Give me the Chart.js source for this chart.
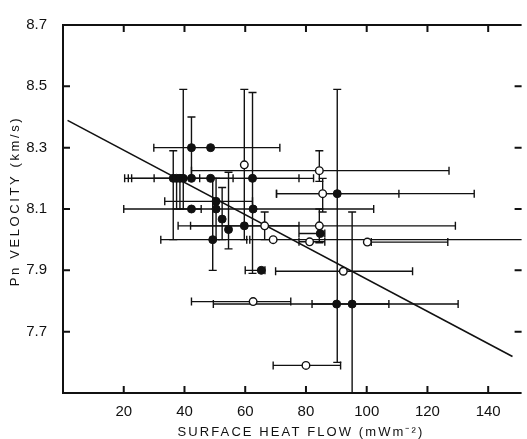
<!DOCTYPE html>
<html>
<head>
<meta charset="utf-8">
<script src="https://cdn.jsdelivr.net/npm/chart.js@4/dist/chart.umd.min.js"></script>
<style>
  html, body { margin: 0; padding: 0; background: #fff; }
  canvas { display: block; }
</style>
</head>
<body>
<canvas id="pnChart" width="527" height="439"></canvas>
<script>
// tick labels
const xTicks = [20, 40, 60, 80, 100, 120, 140];
const yTicks = [7.7, 7.9, 8.1, 8.3, 8.5, 8.7];

// filled circles: value + error bar ends (null = no bar on that side)
const filledX   = [42.3, 48.6, 36.3, 37.4, 38.5, 39.6, 42.3, 48.6, 62.4, 90.3, 50.4, 50.4, 42.3, 52.4, 54.5, 49.3, 59.7, 62.6, 65.3, 90.1, 95.2, 84.7];
const filledY   = [8.30, 8.30, 8.20, 8.20, 8.20, 8.20, 8.20, 8.20, 8.20, 8.15, 8.125, 8.10, 8.10, 8.067, 8.033, 8.00, 8.045, 8.10, 7.90, 7.79, 7.79, 8.02];
const filledXLo = [29.9, null, 20.3, 21.5, 22.6, 30.0, null, null, null, 70.3, 33.5, 20.0, null, null, null, 32.2, 42.0, 42.3, 60.0, 49.5, 82.0, 77.7];
const filledXHi = [71.4, null, 56.0, 45.0, 82.5, 77.7, null, null, null, 135.4, 62.4, 45.5, null, null, null, 60.5, 77.7, 102.3, 66.5, 107.3, 130.1, 86.2];
const filledYLo = [8.20, null, 8.00, 8.10, 8.10, 8.10, null, null, 7.89, 7.60, 8.00, null, null, 8.00, 7.97, 7.90, 8.00, null, null, null, 7.50, null];
const filledYHi = [8.40, null, 8.29, null, null, 8.49, null, null, 8.48, 8.49, 8.20, null, null, 8.17, 8.22, 8.20, 8.49, null, null, null, 8.09, null];

// open circles
const openX   = [59.7, 84.4, 85.5, 66.4, 84.4, 69.2, 81.2, 100.2, 92.3, 62.6, 80.0];
const openY   = [8.244, 8.225, 8.15, 8.045, 8.045, 8.00, 7.993, 7.992, 7.897, 7.798, 7.59];
const openXLo = [null, 42.3, 70.3, 37.9, null, 61.5, 77.7, 101.5, 70.0, 42.3, 69.2];
const openXHi = [null, 127.1, 110.6, 129.2, null, 170, 86.2, 126.7, 115.1, 75.0, 91.4];
const openYLo = [null, 8.19, 8.09, 8.00, 7.99, null, null, null, null, null, null];
const openYHi = [null, 8.29, 8.20, 8.09, 8.10, null, null, null, null, null, null];

// fitted line end points
const fitX = [1.5, 148];
const fitY = [8.389, 7.619];

const ink = '#111';
const toPts = (xs, ys) => xs.map((x, i) => ({ x: x, y: ys[i] }));

const groups = [
  { x: filledX, y: filledY, xLo: filledXLo, xHi: filledXHi, yLo: filledYLo, yHi: filledYHi },
  { x: openX, y: openY, xLo: openXLo, xHi: openXHi, yLo: openYLo, yHi: openYHi }
];

const frame = {
  id: 'frame',
  beforeDatasetsDraw(chart) {
    const { ctx, chartArea: a, scales: { x, y } } = chart;
    const cap = 4;
    ctx.save();
    ctx.beginPath();
    ctx.rect(a.left, a.top, a.right - a.left, a.bottom - a.top);
    ctx.clip();
    ctx.strokeStyle = ink;
    ctx.lineWidth = 1.4;
    groups.forEach(g => {
      g.x.forEach((xv, i) => {
        const px = x.getPixelForValue(xv);
        const py = y.getPixelForValue(g.y[i]);
        ctx.beginPath();
        if (g.xLo[i] !== null || g.xHi[i] !== null) {
          const l = g.xLo[i] !== null ? x.getPixelForValue(g.xLo[i]) : px;
          const r = g.xHi[i] !== null ? x.getPixelForValue(g.xHi[i]) : px;
          ctx.moveTo(l, py); ctx.lineTo(r, py);
          if (g.xLo[i] !== null) { ctx.moveTo(l, py - cap); ctx.lineTo(l, py + cap); }
          if (g.xHi[i] !== null) { ctx.moveTo(r, py - cap); ctx.lineTo(r, py + cap); }
        }
        if (g.yLo[i] !== null || g.yHi[i] !== null) {
          const b = g.yLo[i] !== null ? y.getPixelForValue(g.yLo[i]) : py;
          const t = g.yHi[i] !== null ? y.getPixelForValue(g.yHi[i]) : py;
          ctx.moveTo(px, b); ctx.lineTo(px, t);
          if (g.yLo[i] !== null) { ctx.moveTo(px - cap, b); ctx.lineTo(px + cap, b); }
          if (g.yHi[i] !== null) { ctx.moveTo(px - cap, t); ctx.lineTo(px + cap, t); }
        }
        ctx.stroke();
      });
    });
    ctx.restore();
  },
  afterDraw(chart) {
    const { ctx, chartArea: a, scales: { x, y } } = chart;
    const len = 7;
    ctx.save();
    ctx.strokeStyle = ink;
    ctx.lineWidth = 2;
    ctx.beginPath();
    ctx.moveTo(a.right, a.top);
    ctx.lineTo(a.left, a.top);
    ctx.lineTo(a.left, a.bottom);
    ctx.lineTo(a.right, a.bottom);
    xTicks.forEach(v => {
      const px = x.getPixelForValue(v);
      ctx.moveTo(px, a.bottom); ctx.lineTo(px, a.bottom - len);
      ctx.moveTo(px, a.top); ctx.lineTo(px, a.top + len);
    });
    yTicks.forEach(v => {
      const py = y.getPixelForValue(v);
      ctx.moveTo(a.left, py); ctx.lineTo(a.left + len, py);
      ctx.moveTo(a.right, py); ctx.lineTo(a.right - len, py);
    });
    ctx.stroke();

    // axis titles, spaced out like the original lettering
    ctx.fillStyle = ink;
    ctx.font = '13px "Liberation Sans", Arial, sans-serif';
    ctx.textAlign = 'center';
    ctx.textBaseline = 'middle';
    ctx.letterSpacing = '2.1px';
    ctx.fillText('SURFACE HEAT FLOW (mWm\u207B\u00B2)', 301, 432);
    ctx.letterSpacing = '2.6px';
    ctx.translate(15, 201);
    ctx.rotate(-Math.PI / 2);
    ctx.fillText('Pn VELOCITY (km/s)', 0, 0);
    ctx.restore();
  }
};

new Chart(document.getElementById('pnChart'), {
  type: 'scatter',
  data: {
    datasets: [
      {
        data: toPts(filledX, filledY),
        pointRadius: 4,
        pointBackgroundColor: ink,
        pointBorderColor: ink,
        pointBorderWidth: 1
      },
      {
        data: toPts(openX, openY),
        pointRadius: 3.8,
        pointBackgroundColor: '#fff',
        pointBorderColor: ink,
        pointBorderWidth: 1.4
      },
      {
        type: 'line',
        data: toPts(fitX, fitY),
        showLine: true,
        pointRadius: 0,
        borderColor: ink,
        borderWidth: 1.6
      }
    ]
  },
  options: {
    responsive: false,
    animation: false,
    layout: { padding: { top: 15, right: 0, left: 0, bottom: 0 } },
    plugins: { legend: { display: false }, tooltip: { enabled: false } },
    scales: {
      x: {
        type: 'linear',
        min: 0,
        max: 151,
        afterBuildTicks: s => { s.ticks = xTicks.map(v => ({ value: v })); },
        afterFit: s => { s.height = 46; },
        grid: { display: false, drawTicks: false },
        border: { display: false },
        ticks: {
          padding: 10,
          color: ink,
          font: { family: '"Liberation Sans", Arial, sans-serif', size: 15 },
          maxRotation: 0
        }
      },
      y: {
        type: 'linear',
        min: 7.5,
        max: 8.7,
        afterBuildTicks: s => { s.ticks = yTicks.map(v => ({ value: v })); },
        afterFit: s => { s.width = 63; },
        grid: { display: false, drawTicks: false },
        border: { display: false },
        ticks: {
          padding: 16,
          color: ink,
          font: { family: '"Liberation Sans", Arial, sans-serif', size: 15 },
          callback: v => v.toFixed(1)
        }
      }
    }
  },
  plugins: [frame]
});
</script>
</body>
</html>
